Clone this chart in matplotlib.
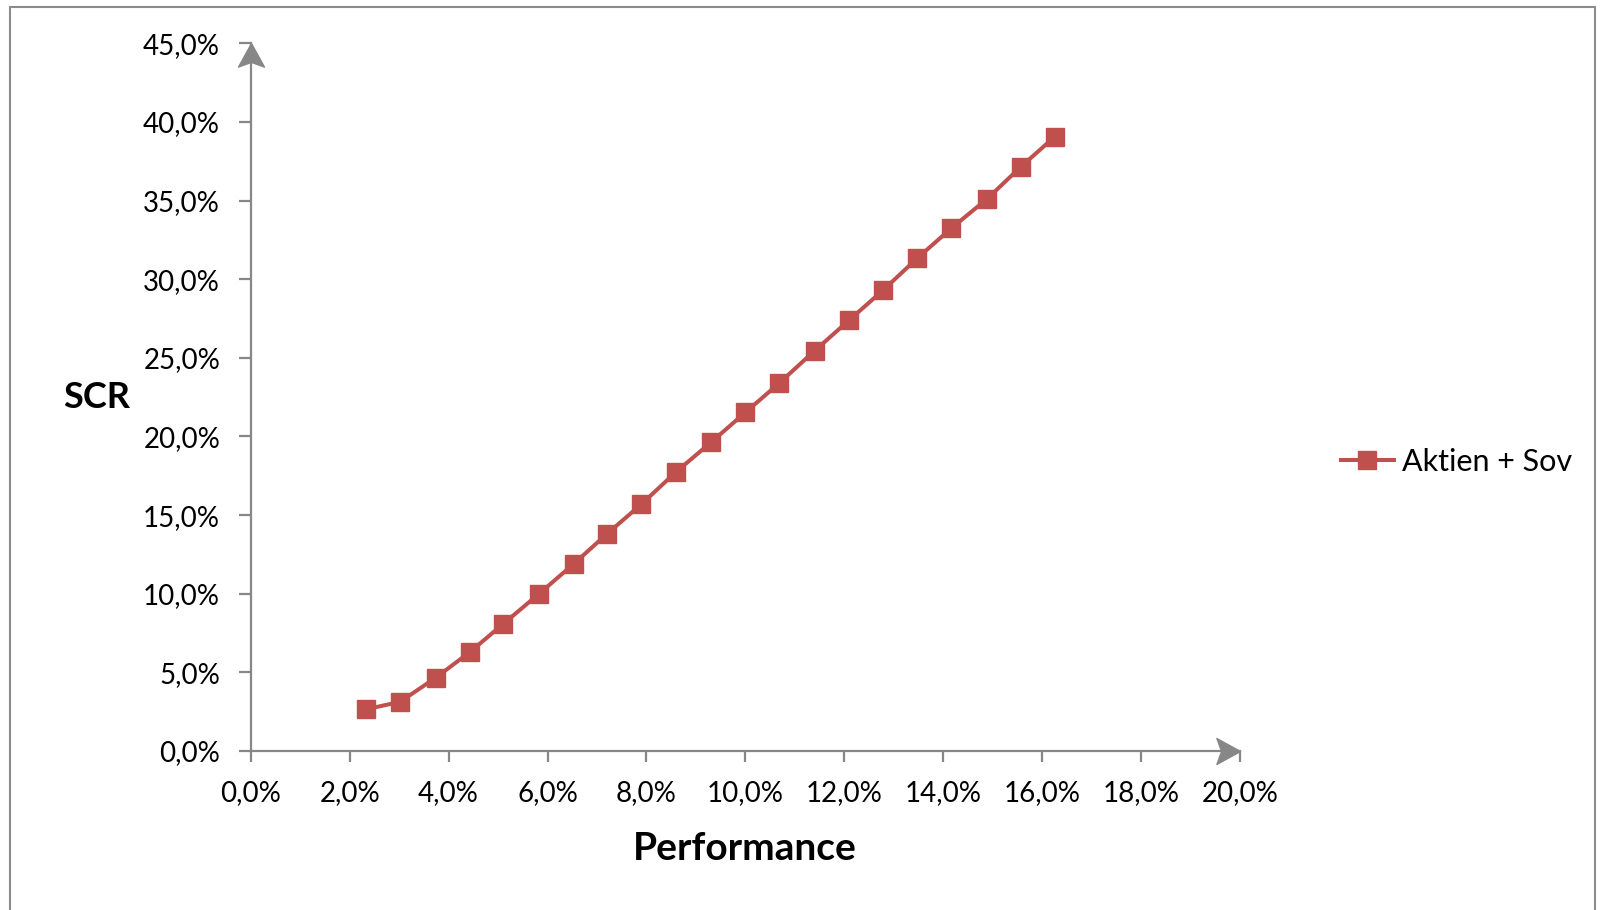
import matplotlib.pyplot as plt
from matplotlib.patches import Rectangle
from matplotlib.path import Path
from matplotlib.ticker import FuncFormatter

plt.rcParams['font.family'] = ['Lato', 'DejaVu Sans']

# Performance vs. SCR, in percent
performance = [2.33, 3.02, 3.74, 4.43, 5.10, 5.83, 6.53, 7.20, 7.90, 8.59, 9.31,
               10.00, 10.68, 11.40, 12.10, 12.78, 13.47, 14.16, 14.88, 15.57, 16.25]
scr = [2.65, 3.13, 4.66, 6.29, 8.07, 10.00, 11.90, 13.80, 15.70, 17.72, 19.64,
       21.53, 23.38, 25.45, 27.40, 29.29, 31.32, 33.23, 35.09, 37.15, 39.05]
series_name = 'Aktien + Sov'

x_ticks = [0, 2, 4, 6, 8, 10, 12, 14, 16, 18, 20]
y_ticks = [0, 5, 10, 15, 20, 25, 30, 35, 40, 45]

red = '#C0504D'
grey = '#878787'

fig = plt.figure(figsize=(16, 9.1), dpi=100)
ax = fig.add_axes([0.1567, 0.1747, 0.6183, 0.7777])

line, = ax.plot(performance, scr, color=red, lw=2.9, marker='s', ms=12.5,
                mfc=red, mec=red, label=series_name, clip_on=False)

ax.set_xlim(0, 20)
ax.set_ylim(0, 45)
ax.set_xticks(x_ticks)
ax.set_yticks(y_ticks)
pct = FuncFormatter(lambda v, p: f'{v:.1f}%'.replace('.', ','))
ax.xaxis.set_major_formatter(pct)
ax.yaxis.set_major_formatter(pct)

for s in ['top', 'right']:
    ax.spines[s].set_visible(False)
for s in ['left', 'bottom']:
    ax.spines[s].set_color(grey)
    ax.spines[s].set_linewidth(1.6)
ax.tick_params(axis='both', colors=grey, width=1.6, labelcolor='black')
ax.tick_params(axis='x', length=8, pad=13, labelsize=20)
ax.tick_params(axis='y', length=9, pad=13, labelsize=20)

# stealth-style arrow heads at the axis ends (tip sits at the marker origin)
head_x = Path([(0, 0), (-1, 0.55), (-0.8, 0), (-1, -0.55), (0, 0)],
              [Path.MOVETO, Path.LINETO, Path.LINETO, Path.LINETO, Path.CLOSEPOLY])
head_y = Path([(0, 0), (-0.55, -1), (0, -0.8), (0.55, -1), (0, 0)],
              [Path.MOVETO, Path.LINETO, Path.LINETO, Path.LINETO, Path.CLOSEPOLY])
ax.plot([20], [0], marker=head_x, ms=34, color=grey, mec=grey, clip_on=False)
ax.plot([0], [45], marker=head_y, ms=34, color=grey, mec=grey, clip_on=False)

fig.text(97 / 1600, 1 - 398 / 910, 'SCR', fontsize=26, fontweight='bold',
         ha='center', va='center')
fig.text(745 / 1600, 1 - 848 / 910, 'Performance', fontsize=28, fontweight='bold',
         ha='center', va='center')

fig.legend(handles=[line], loc='center left', bbox_to_anchor=(1313 / 1600, 1 - 462 / 910),
           frameon=False, fontsize=22, handlelength=1.75, handletextpad=0.25)

# chart frame
fig.patches.append(Rectangle((10 / 1600, -0.05), 1585 / 1600, 1.05 - 7 / 910,
                             transform=fig.transFigure, fill=False,
                             edgecolor='#8c8c8c', lw=1.5))

fig.savefig('out.png', dpi=100)
